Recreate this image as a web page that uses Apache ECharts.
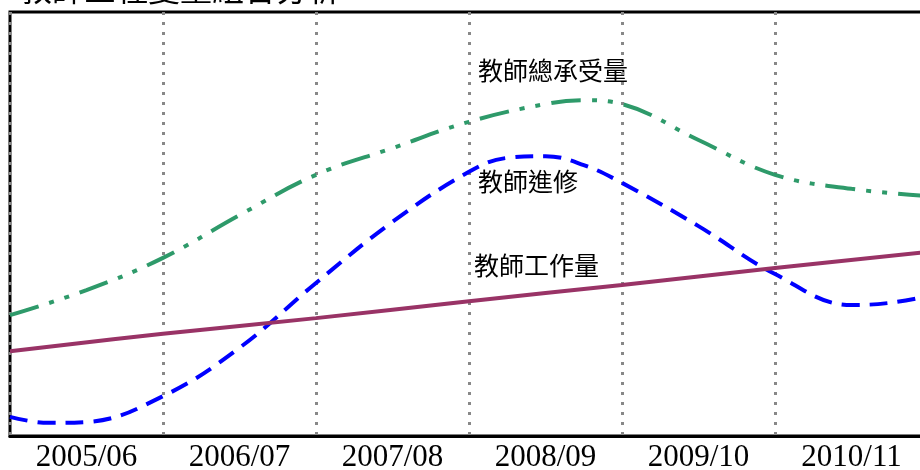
<!DOCTYPE html>
<html>
<head>
<meta charset="UTF-8">
<title>Echarts</title>
<script src="https://cdn.jsdelivr.net/npm/echarts@6/dist/echarts.min.js"></script>
<style>
  html, body { margin: 0; padding: 0; background: #fff; }
  #main { width: 920px; height: 470px; }
</style>
</head>
<body>
<div id="main"></div>
<script type="text/javascript">
    // 類別（年度）
    var years = ['2005/06', '2006/07', '2007/08', '2008/09', '2009/10', '2010/11'];

    // 曲線數據: [位置(年度單位), 數值]
    var zongChengShou = [[0, 28.5], [0.5, 34.4], [1, 42.0], [1.5, 52.1], [2, 61.6], [2.5, 67.9], [3, 74.1],
        [3.5, 78.3], [3.75, 79.2], [4, 78.3], [4.5, 69.8], [5, 61.6], [5.5, 58.3], [6, 56.6]];
    var jinXiu = [[0, 4.5], [0.25, 3.1], [0.5, 3.3], [1, 9.4], [1.5, 20.8], [2, 36.1], [2.5, 50.5], [3, 62.3],
        [3.25, 65.6], [3.5, 66.0], [3.75, 63.9], [4, 59.7], [4.5, 49.5], [5, 38.2], [5.5, 30.9], [5.75, 31.4], [6, 33.0]];
    var gongZuoLiang = [[0, 20.0], [1, 24.1], [2, 27.8], [3, 31.8], [4, 35.6], [5, 39.6], [6, 43.4]];

    var seriesNames = ['教師總承受量', '教師進修', '教師工作量'];

    var serif = '"Liberation Serif", "Noto Sans CJK TC", serif';
    var myChart = echarts.init(document.getElementById('main'));

    myChart.setOption({
        animation: false,
        backgroundColor: '#fff',
        grid: {
            left: 10, top: 12, width: 918, height: 424,
            outerBoundsMode: 'none',
            show: true, borderColor: '#000', borderWidth: 3
        },
        graphic: [
            { type: 'text', left: 20, top: -23, style: { text: '教師三種變量組合分析', font: '32px ' + serif, fill: '#000' } },
            { type: 'text', left: 478, top: 61, style: { text: seriesNames[0], font: '25px ' + serif, fill: '#000' } },
            { type: 'text', left: 478, top: 172, style: { text: seriesNames[1], font: '25px ' + serif, fill: '#000' } },
            { type: 'text', left: 474, top: 256, style: { text: seriesNames[2], font: '25px ' + serif, fill: '#000' } }
        ],
        xAxis: [{
            type: 'category',
            data: years,
            boundaryGap: true,
            axisLine: { lineStyle: { color: '#000', width: 3 } },
            axisTick: { show: false },
            axisLabel: { color: '#000', fontFamily: serif, fontSize: 31, margin: 6 },
            splitLine: { show: true, lineStyle: { color: '#888', width: 3, type: [3, 7] } }
        }, {
            type: 'value',
            min: 0, max: 6,
            show: false
        }],
        yAxis: {
            type: 'value',
            min: 0, max: 100,
            show: false
        },
        series: [{
            name: seriesNames[0],
            type: 'line',
            xAxisIndex: 1,
            data: zongChengShou,
            smooth: 0.4,
            symbol: 'none',
            lineStyle: { color: '#2e9a6a', width: 4, type: [30, 11, 5, 11, 5, 11] }
        }, {
            name: seriesNames[1],
            type: 'line',
            xAxisIndex: 1,
            data: jinXiu,
            smooth: 0.4,
            symbol: 'none',
            lineStyle: { color: '#0000ff', width: 4, type: [18, 10] }
        }, {
            name: seriesNames[2],
            type: 'line',
            xAxisIndex: 1,
            data: gongZuoLiang,
            smooth: 0.4,
            symbol: 'none',
            lineStyle: { color: '#993366', width: 4 }
        }]
    });
</script>
</body>
</html>
